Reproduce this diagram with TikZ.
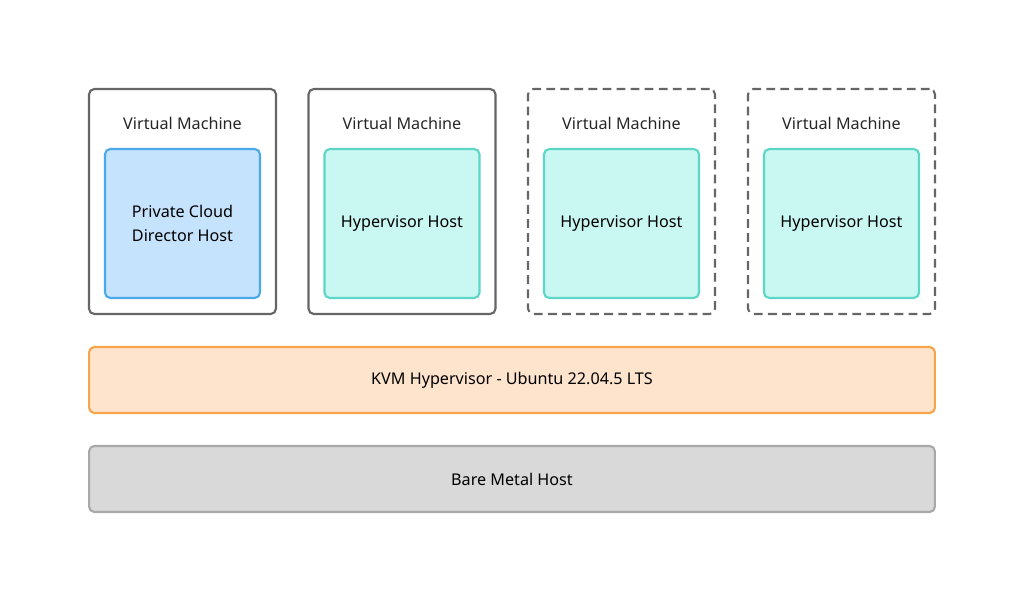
\documentclass[tikz,border=0pt]{standalone}
\usepackage{fontspec}
\setmainfont{Noto Sans}
\usetikzlibrary{positioning}
\definecolor{vmgray}{HTML}{666666}
\definecolor{pcdfill}{HTML}{C6E3FD}
\definecolor{pcddraw}{HTML}{4BA9E9}
\definecolor{hvfill}{HTML}{C9F7F2}
\definecolor{hvdraw}{HTML}{5CD6C6}
\definecolor{kvmfill}{HTML}{FEE4CD}
\definecolor{kvmdraw}{HTML}{F6A548}
\definecolor{bmfill}{HTML}{D9D9D9}
\definecolor{bmdraw}{HTML}{A8A8A8}
\begin{document}
\begin{tikzpicture}[
    x=0.02cm, y=-0.02cm,
    font=\fontsize{9.2}{14}\selectfont,
    box/.style={rectangle, draw, line width=1.2pt, rounded corners=3pt, align=center, inner sep=0pt},
    vm/.style={box, draw=vmgray, minimum width=3.74cm, minimum height=4.5cm},
    vmdash/.style={vm, dash pattern=on 5pt off 3pt},
    vmlabel/.style={text=black!85},
    pcd/.style={box, fill=pcdfill, draw=pcddraw, minimum width=3.1cm, minimum height=2.98cm},
    hv/.style={box, fill=hvfill, draw=hvdraw, minimum width=3.1cm, minimum height=2.98cm},
    layer/.style={box, minimum width=16.92cm, minimum height=1.32cm}
]
\useasboundingbox (0,0) rectangle (1024,601);

% Virtual machines
\node[vm] (vma) at (182.5,201.5) {};
\node[vm] (vmb) at (402,201.5) {};
\node[vmdash] (vmc) at (621.5,201.5) {};
\node[vmdash] (vmd) at (841.5,201.5) {};

\node[vmlabel] (vmatext) at (182.5,123) {Virtual Machine};
\node[vmlabel] (vmbtext) at (402,123) {Virtual Machine};
\node[vmlabel] (vmctext) at (621.5,123) {Virtual Machine};
\node[vmlabel] (vmdtext) at (841.5,123) {Virtual Machine};

% Hosts
\node[pcd] (pcdhost) at (182.5,223.5) {Private Cloud\\Director Host};
\node[hv] (hvb) at (402,223.5) {Hypervisor Host};
\node[hv] (hvc) at (621.5,223.5) {Hypervisor Host};
\node[hv] (hvd) at (841.5,223.5) {Hypervisor Host};

% Layers
\node[layer, fill=kvmfill, draw=kvmdraw] (kvm) at (512,380) {KVM Hypervisor - Ubuntu 22.04.5 LTS};
\node[layer, fill=bmfill, draw=bmdraw] (bare) at (512,479) {Bare Metal Host};

\end{tikzpicture}
\end{document}
